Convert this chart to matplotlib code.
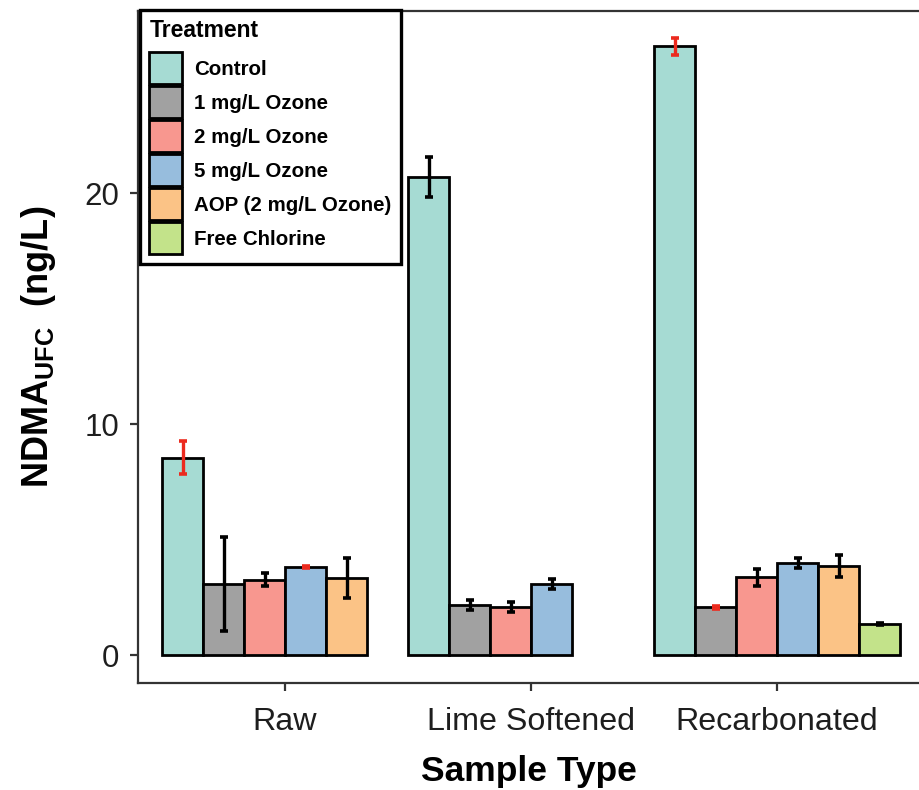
import numpy as np
import matplotlib
matplotlib.use("Agg")
import matplotlib.pyplot as plt

plt.rcParams['font.family'] = ['Liberation Sans', 'DejaVu Sans']
plt.rcParams['mathtext.fontset'] = 'custom'
plt.rcParams['mathtext.rm'] = 'Liberation Sans'
plt.rcParams['mathtext.bf'] = 'Liberation Sans:bold'

nan = np.nan
sample_types = ['Raw', 'Lime Softened', 'Recarbonated']
treatments = ['Control', '1 mg/L Ozone', '2 mg/L Ozone', '5 mg/L Ozone',
              'AOP (2 mg/L Ozone)', 'Free Chlorine']

control = [8.55, 20.7, 26.35]
ozone1 = [3.08, 2.17, 2.06]
ozone2 = [3.27, 2.08, 3.36]
ozone5 = [3.82, 3.07, 3.98]
aop = [3.35, nan, 3.86]
chlorine = [nan, nan, 1.35]

control_err = [0.71, 0.88, 0.38]
ozone1_err = [2.02, 0.2, 0.05]
ozone2_err = [0.27, 0.21, 0.38]
ozone5_err = [0.05, 0.21, 0.21]
aop_err = [0.87, nan, 0.47]
chlorine_err = [nan, nan, 0.03]

means = [control, ozone1, ozone2, ozone5, aop, chlorine]
errs = [control_err, ozone1_err, ozone2_err, ozone5_err, aop_err, chlorine_err]

colors = ['#a6dbd3', '#a1a1a1', '#f8978f', '#97bddd', '#fbc386', '#c3e38a']
# error bar colours (red ones flagged in the original)
red = '#ec2a1e'
err_colors = [[red, 'black', red],
              ['black', 'black', red],
              ['black', 'black', 'black'],
              [red, 'black', 'black'],
              ['black', 'black', 'black'],
              ['black', 'black', 'black']]

fig = plt.figure(figsize=(9.19, 7.9), dpi=100)
ax = fig.add_axes([138 / 919, 1 - 683 / 790, 1 - 138 / 919, (683 - 11) / 790])

w = 1 / 6
xg = np.arange(len(sample_types))
for i, t in enumerate(treatments):
    m = np.array(means[i], dtype=float)
    e = np.array(errs[i], dtype=float)
    x = xg + (i - 2.5) * w
    ok = ~np.isnan(m)
    ax.bar(x[ok], m[ok], width=w, color=colors[i], edgecolor='black',
           linewidth=2.0, label=t, zorder=2)
    for j in np.where(ok)[0]:
        ax.errorbar(x[j], m[j], yerr=e[j], fmt='none', ecolor=err_colors[i][j],
                    elinewidth=2.4, capsize=3.0, capthick=2.6, zorder=3)

ax.set_xlim(-0.598, 2.577)
ax.set_ylim(-1.21, 27.88)
ax.set_yticks([0, 10, 20])
ax.set_xticks(xg)
ax.set_xticklabels(sample_types)

for s in ['left', 'bottom', 'top']:
    ax.spines[s].set_color('#333333')
    ax.spines[s].set_linewidth(1.6)
ax.spines['right'].set_visible(False)
ax.tick_params(axis='both', length=5.5, width=1.6, color='#333333',
               labelsize=22.5, labelcolor='#1e1e1e')
ax.tick_params(axis='x', labelsize=23.2, pad=12)
ax.tick_params(axis='y', pad=8)

ax.set_xlabel('Sample Type', fontsize=25.5, fontweight='bold', labelpad=13)
ax.set_ylabel(r'NDMA$_{\mathbf{UFC}}$  (ng/L)', fontsize=26, fontweight='bold',
              labelpad=19)

leg = ax.legend(loc='upper left', bbox_to_anchor=(140 / 919, 1 - 10 / 790),
                bbox_transform=fig.transFigure, borderaxespad=0,
                title='Treatment', alignment='left',
                prop={'weight': 'bold', 'size': 14.8},
                title_fontproperties={'weight': 'bold', 'size': 16.5},
                handlelength=1.6, handleheight=2.02, labelspacing=0.1,
                handletextpad=0.6, borderpad=0.45, fancybox=False,
                framealpha=1, edgecolor='black')
leg._legend_box.sep = 7
leg.get_frame().set_linewidth(2.4)
leg.set_zorder(5)

fig.savefig('out.png', dpi=100)
